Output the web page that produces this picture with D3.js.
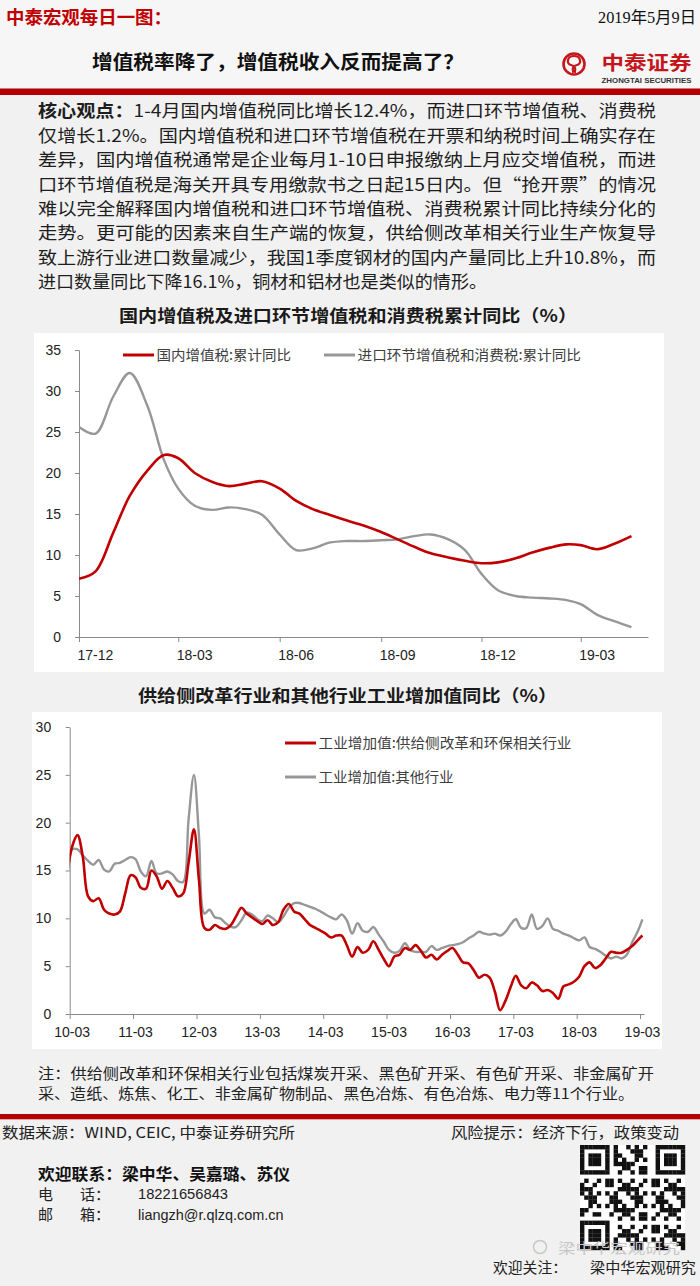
<!DOCTYPE html>
<html>
<head>
<meta charset="utf-8">
<script src="https://cdn.jsdelivr.net/npm/d3@7"></script>
<style>
  body { margin: 0; background: #f1f1f1; }
  svg { display: block; }
</style>
</head>
<body>
<svg id="page" width="700" height="1286"></svg>
<script>
// ---- 数据 ----
// 图1：半月取点（每月1日、16日），2017-12 ~ 2019-04
const taxMonths = d3.timeMonth.range(new Date(2017, 11, 1), new Date(2019, 4, 1));
const taxDates = taxMonths.flatMap(m => [m, d3.timeDay.offset(m, 15)]);
const domesticVat = [7.1, 8.0, 12.7, 17.2, 20.3, 22.2, 21.8, 20.0, 18.9, 18.4, 18.7, 19.0,
  18.1, 16.6, 15.6, 14.9, 14.2, 13.6, 12.8, 11.9, 11.0, 10.2, 9.7, 9.3, 9.0, 9.1,
  9.6, 10.3, 10.9, 11.3, 11.2, 10.7, 11.4, 12.3];
const importTax = [25.6, 24.8, 29.3, 32.2, 28.2, 21.6, 18.1, 16.0, 15.5, 15.8, 15.6, 14.9,
  12.5, 10.6, 10.8, 11.5, 11.7, 11.7, 11.8, 11.9, 12.3, 12.5, 11.9, 10.6, 7.7, 5.7,
  5.0, 4.8, 4.7, 4.5, 4.0, 2.7, 1.9, 1.2];
const taxTicks = ["2017-12", "2018-03", "2018-06", "2018-09", "2018-12", "2019-03"];
const taxLegend = ["国内增值税:累计同比", "进口环节增值税和消费税:累计同比"];

// 图2：月度，2010-02 ~ 2019-03（每月15日）
const ipDates = d3.timeMonth.range(new Date(2010, 1, 1), new Date(2019, 3, 1)).map(m => d3.timeDay.offset(m, 14));
const ipSupplySide = [14.5, 17.5, 18.7, 16.5, 12.3, 11.8, 12.1, 10.9, 10.5, 10.4, 10.7,
  12.6, 14.5, 14.3, 13.2, 13.1, 15.0, 14.4, 13.1, 13.9, 13.2, 12.3, 12.6, 15.8, 19.3,
  14.0, 9.0, 8.8, 9.3, 9.0, 8.9, 9.3, 10.2, 11.1, 10.5, 10.1, 9.7, 9.4, 9.8, 9.3, 9.6,
  10.9, 11.5, 10.7, 10.5, 9.9, 9.3, 9.0, 8.7, 8.4, 8.0, 8.2, 8.2, 7.2, 6.0, 7.0, 6.4,
  6.7, 7.6, 6.7, 5.7, 5.0, 6.0, 6.2, 6.9, 6.7, 7.2, 6.6, 5.9, 6.2, 5.7, 6.2, 6.6, 6.9,
  6.2, 5.4, 5.3, 4.6, 3.8, 4.1, 3.8, 2.3, 0.4, 1.4, 2.9, 4.0, 3.0, 2.7, 3.3, 3.0, 2.4,
  2.5, 2.2, 1.6, 2.9, 3.1, 3.4, 3.9, 5.0, 5.4, 4.8, 5.1, 5.8, 6.5, 6.4, 6.4, 6.7, 7.1,
  7.7, 8.2];
const ipOther = [8.0, 17.2, 17.2, 16.6, 16.0, 15.6, 16.1, 15.1, 14.9, 15.7, 15.8, 16.1,
  16.4, 16.2, 14.9, 14.4, 16.0, 14.7, 14.7, 14.9, 14.6, 13.9, 13.8, 20.3, 25.0, 18.6,
  10.5, 10.9, 10.1, 10.0, 9.5, 9.1, 9.1, 9.8, 10.6, 10.4, 9.9, 9.7, 10.3, 10.0, 9.6,
  10.2, 11.1, 11.6, 11.6, 11.4, 11.2, 11.0, 10.7, 10.4, 10.1, 9.9, 10.4, 9.8, 8.4, 9.5,
  8.7, 8.6, 9.1, 8.3, 7.5, 6.7, 6.4, 6.6, 7.4, 6.7, 6.5, 6.5, 6.5, 7.1, 6.7, 6.9, 7.1,
  7.2, 7.3, 7.5, 7.9, 8.2, 8.6, 8.4, 8.3, 8.4, 8.2, 8.6, 9.4, 9.9, 9.0, 9.0, 10.4, 8.9,
  9.2, 10.0, 8.9, 8.7, 8.4, 8.2, 7.9, 7.7, 8.0, 7.0, 6.8, 6.5, 6.1, 5.8, 6.0, 5.8, 6.2,
  7.5, 8.6, 9.9];
const ipTicks = ["2010-03", "2011-03", "2012-03", "2013-03", "2014-03", "2015-03",
  "2016-03", "2017-03", "2018-03", "2019-03"];
const ipLegend = ["工业增加值:供给侧改革和环保相关行业", "工业增加值:其他行业"];

const bodyLines = [
  ["核心观点：", "1-4月国内增值税同比增长12.4%，而进口环节增值税、消费税"],
  ["", "仅增长1.2%。国内增值税和进口环节增值税在开票和纳税时间上确实存在"],
  ["", "差异，国内增值税通常是企业每月1-10日申报缴纳上月应交增值税，而进"],
  ["", "口环节增值税是海关开具专用缴款书之日起15日内。但“抢开票”的情况"],
  ["", "难以完全解释国内增值税和进口环节增值税、消费税累计同比持续分化的"],
  ["", "走势。更可能的因素来自生产端的恢复，供给侧改革相关行业生产恢复导"],
  ["", "致上游行业进口数量减少，我国1季度钢材的国内产量同比上升10.8%，而"],
  ["", "进口数量同比下降16.1%，铜材和铝材也是类似的情形。"]
];
const noteLines = [
  "注：供给侧改革和环保相关行业包括煤炭开采、黑色矿开采、有色矿开采、非金属矿开",
  "采、造纸、炼焦、化工、非金属矿物制品、黑色冶炼、有色冶炼、电力等11个行业。"
];

// ---- 样式 ----
const RED = "#c00000";
const GRAY = "#979797";
const CJK = "'Noto Sans CJK SC', 'Noto Sans', sans-serif";
const LAT = "'Liberation Sans', Arial, sans-serif";
const SERIF = "'Liberation Serif', 'Noto Sans CJK SC', serif";
const parseM = d3.timeParse("%Y-%m");

const svg = d3.select("#page");

// 文字（宽度用 textLength 拉伸以对齐原图）
function txt(str, x, y, o = {}) {
  const t = svg.append("text")
    .attr("x", x).attr("y", y)
    .attr("font-family", o.font || CJK)
    .attr("font-size", o.size || 16)
    .attr("font-weight", o.bold ? "bold" : "normal")
    .attr("fill", o.color || "#222")
    .attr("text-anchor", o.anchor || "start")
    .text(str);
  if (o.width) t.attr("textLength", o.width).attr("lengthAdjust", "spacingAndGlyphs");
  return t;
}

// 背景
svg.append("rect").attr("width", 700).attr("height", 1286).attr("fill", "#f1f1f1");
svg.append("rect").attr("width", 700).attr("height", 88).attr("fill", "#f6f6f6");

// ---- 页眉 ----
txt("中泰宏观每日一图：", 6, 23.5, { size: 18, bold: true, color: RED, width: 166 });
txt("2019年5月9日", 696, 22.5, { size: 16, font: SERIF, anchor: "end", color: "#111", width: 98 });
txt("增值税率降了，增值税收入反而提高了？", 92, 69, { size: 19, bold: true, color: "#111", width: 372 });

// 公司标志
const logo = svg.append("g").attr("fill", "none").attr("stroke", "#c4161c");
logo.append("circle").attr("cx", 574).attr("cy", 64).attr("r", 10.5).attr("stroke-width", 2.6);
logo.append("path").attr("stroke-width", 2.2)
  .attr("d", "M574,56 C567,56 566,64 571,65 C576,66 577,72 572,72 M574,56 C581,56 582,64 577,65 C572,66 571,72 576,72");
txt("中泰证券", 601.5, 70, { size: 19.5, bold: true, color: "#c4161c", width: 90 });
txt("ZHONGTAI SECURITIES", 601.5, 82.5, { size: 7, bold: true, font: LAT, color: "#333", width: 90 });

svg.append("rect").attr("x", 0).attr("y", 88.5).attr("width", 700).attr("height", 6.5).attr("fill", "#b40000");

// ---- 正文 ----
bodyLines.forEach(([head, rest], i) => {
  const t = svg.append("text")
    .attr("x", 38).attr("y", 117.2 + i * 24.45)
    .attr("font-family", CJK).attr("font-size", 17.5).attr("fill", "#1e1e1e");
  if (head) t.append("tspan").attr("font-weight", "bold").text(head);
  t.append("tspan").text(rest);
  t.attr("textLength", i < bodyLines.length - 1 ? 618 : 449).attr("lengthAdjust", "spacingAndGlyphs");
});

// ---- 折线图通用 ----
function drawChart(cfg) {
  const { panel, x, y, yTicks, xTicks, series, labelAnchor, labelDx } = cfg;
  svg.append("rect").attr("x", panel[0]).attr("y", panel[1])
    .attr("width", panel[2] - panel[0]).attr("height", panel[3] - panel[1]).attr("fill", "#fff");

  const g = svg.append("g");
  const clipId = cfg.id + "-clip";
  g.append("clipPath").attr("id", clipId).append("rect")
    .attr("x", x.range()[0]).attr("y", panel[1])
    .attr("width", panel[2] - x.range()[0]).attr("height", panel[3] - panel[1]);

  const yAxis = g.append("g").attr("transform", `translate(${x.range()[0]},0)`)
    .call(d3.axisLeft(y).tickValues(yTicks).tickSize(4).tickSizeOuter(0).tickPadding(cfg.yPad));
  const xAxis = g.append("g").attr("transform", `translate(0,${y.range()[0]})`)
    .call(d3.axisBottom(x).tickValues(xTicks.map(parseM)).tickFormat(d3.timeFormat("%y-%m"))
      .tickSize(5).tickSizeOuter(0).tickPadding(8));
  [yAxis, xAxis].forEach(a => {
    a.attr("font-family", LAT).attr("font-size", 14);
    a.selectAll("path, line").attr("stroke", "#8a8a8a");
    a.selectAll("text").attr("fill", "#222");
  });
  xAxis.selectAll("text").attr("text-anchor", labelAnchor).attr("dx", labelDx);

  const line = d3.line().curve(d3.curveCatmullRom.alpha(0.5))
    .x(d => x(d[0])).y(d => y(d[1]));
  const lines = g.append("g").attr("clip-path", `url(#${clipId})`);
  series.slice().reverse().forEach(s => {
    lines.append("path").datum(d3.zip(s.dates, s.values))
      .attr("fill", "none").attr("stroke", s.color).attr("stroke-width", s.width)
      .attr("stroke-linejoin", "round").attr("d", line);
  });

  series.forEach((s, i) => {
    const [lx, ly, tw] = cfg.legend[i];
    g.append("line").attr("x1", lx).attr("x2", lx + 31).attr("y1", ly).attr("y2", ly)
      .attr("stroke", s.color).attr("stroke-width", 3);
    txt(s.name, lx + 33.5, ly + 5.3, { size: 14, color: "#404040", width: tw });
  });
}

// 图1
txt("国内增值税及进口环节增值税和消费税累计同比（%）", 119, 321.5, { size: 17, bold: true, color: "#1a1a1a", width: 458 });
drawChart({
  id: "tax",
  panel: [34, 333, 664, 672],
  x: d3.scaleTime().domain([new Date(2017, 11, 1), new Date(2019, 4, 1)]).range([79, 648]),
  y: d3.scaleLinear().domain([0, 35]).range([637, 350]),
  yTicks: d3.range(0, 36, 5),
  yPad: 14,
  xTicks: taxTicks,
  labelAnchor: "start",
  labelDx: -2,
  series: [
    { name: taxLegend[0], dates: taxDates, values: domesticVat, color: RED, width: 2.6 },
    { name: taxLegend[1], dates: taxDates, values: importTax, color: GRAY, width: 2.4 }
  ],
  legend: [[123, 355, 134.5], [324, 355, 223.5]]
});

// 图2
txt("供给侧改革行业和其他行业工业增加值同比（%）", 138, 701.5, { size: 17, bold: true, color: "#1a1a1a", width: 419 });
drawChart({
  id: "ip",
  panel: [32, 712, 662, 1049],
  x: d3.scaleTime().domain([new Date(2010, 2, 1), new Date(2019, 2, 24)]).range([69.7, 644]),
  y: d3.scaleLinear().domain([0, 30]).range([1014, 727]),
  yTicks: d3.range(0, 31, 5),
  yPad: 14.5,
  xTicks: ipTicks,
  labelAnchor: "middle",
  labelDx: 2,
  series: [
    { name: ipLegend[0], dates: ipDates, values: ipSupplySide, color: RED, width: 2.6 },
    { name: ipLegend[1], dates: ipDates, values: ipOther, color: GRAY, width: 2.4 }
  ],
  legend: [[285, 743, 253], [285, 777, 135]]
});

// ---- 注释 ----
txt(noteLines[0], 38, 1078.8, { size: 14.5, width: 616 });
txt(noteLines[1], 38, 1098.8, { size: 14.5, width: 596 });

svg.append("rect").attr("x", 0).attr("y", 1114).attr("width", 700).attr("height", 5.3).attr("fill", "#b40000");

// ---- 页脚 ----
txt("数据来源：WIND, CEIC, 中泰证券研究所", 2, 1137.5, { size: 15, width: 293 });
txt("风险提示：经济下行，政策变动", 451, 1137.5, { size: 15, width: 228 });
txt("欢迎联系：梁中华、吴嘉璐、苏仪", 38, 1179.5, { size: 16, bold: true, color: "#111", width: 252 });
txt("电", 38, 1199.5, { size: 15 });
txt("话：", 80, 1199.5, { size: 15 });
txt("18221656843", 138, 1199, { size: 15, font: LAT, width: 90 });
txt("邮", 38, 1220, { size: 15 });
txt("箱：", 80, 1220, { size: 15 });
txt("liangzh@r.qlzq.com.cn", 138, 1219.5, { size: 15, font: LAT, width: 145.5 });

// 二维码（装饰图案）
const qr = svg.append("g").attr("transform", "translate(580,1145)");
qr.append("rect").attr("width", 105).attr("height", 105).attr("fill", "#fff");
const N = 25, cell = 105 / N;
const finder = (r, c) => {
  const inBox = (r0, c0) => r >= r0 && r < r0 + 7 && c >= c0 && c < c0 + 7;
  for (const [r0, c0] of [[0, 0], [0, N - 7], [N - 7, 0]]) {
    if (inBox(r0, c0)) {
      const rr = r - r0, cc = c - c0;
      return rr === 0 || rr === 6 || cc === 0 || cc === 6 || (rr >= 2 && rr <= 4 && cc >= 2 && cc <= 4);
    }
    if (r >= r0 - 1 && r <= r0 + 7 && c >= c0 - 1 && c <= c0 + 7) return false;
  }
  return null;
};
const cells = [];
for (let r = 0; r < N; r++) for (let c = 0; c < N; c++) {
  const f = finder(r, c);
  const on = f === null ? ((r * 31 + c * 17 + r * c * 7) % 11) < 5 : f;
  if (on) cells.push([r, c]);
}
qr.selectAll("rect.m").data(cells).join("rect").attr("class", "m")
  .attr("x", d => d[1] * cell).attr("y", d => d[0] * cell)
  .attr("width", cell + 0.2).attr("height", cell + 0.2).attr("fill", "#111");

// 水印与关注
svg.append("circle").attr("cx", 540).attr("cy", 1247).attr("r", 6.5).attr("fill", "none")
  .attr("stroke", "#c8c8c8").attr("stroke-width", 1.5);
txt("梁中华宏观研究", 558, 1252.5, { size: 14, color: "#c6c6c6", width: 122 });
txt("欢迎关注：", 493, 1273, { size: 14.5, color: "#222", width: 74 });
txt("梁中华宏观研究", 590, 1273, { size: 14.5, color: "#222", width: 106 });
</script>
</body>
</html>
